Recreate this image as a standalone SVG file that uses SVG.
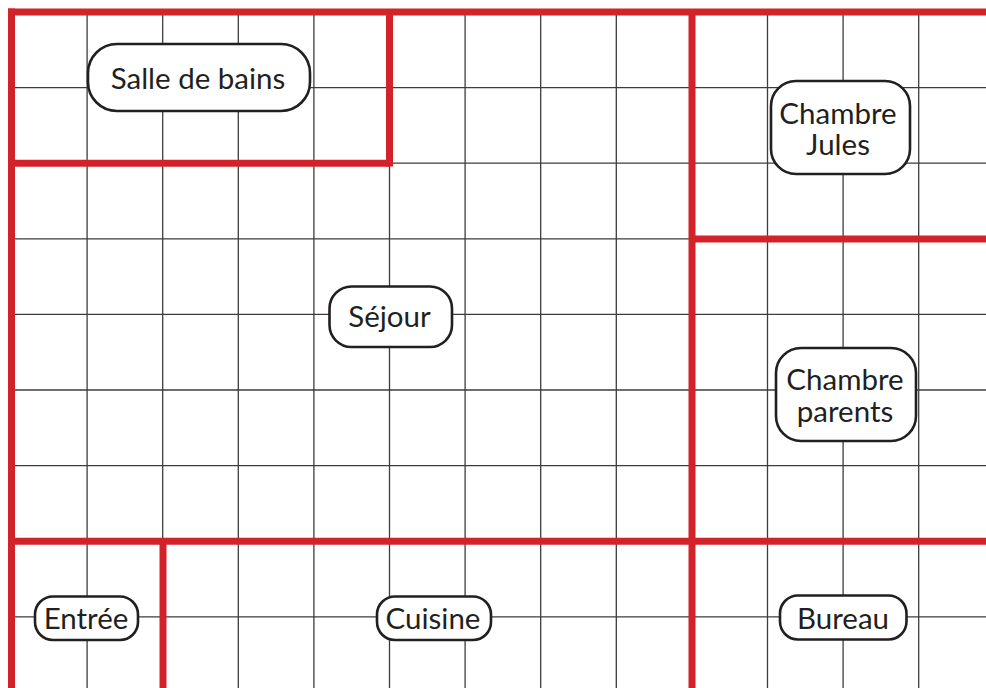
<svg xmlns="http://www.w3.org/2000/svg" width="986" height="688" viewBox="0 0 986 688">
<style>
.grid line{stroke:#3c3c3c;stroke-width:1.3}
.wall{stroke:#d2232a;stroke-width:7;fill:none}
.lbl rect{fill:#fff;stroke:#231f20;stroke-width:2.6}
.lbl text{font-family:Lato,"Open Sans","DejaVu Sans",sans-serif;font-size:29.5px;fill:#231f20;text-anchor:middle}
</style>
<rect width="986" height="688" fill="#fff"/>
<g id="grid" class="grid">
<line x1="87.1" y1="12" x2="87.1" y2="688"/>
<line x1="162.7" y1="12" x2="162.7" y2="688"/>
<line x1="238.3" y1="12" x2="238.3" y2="688"/>
<line x1="313.9" y1="12" x2="313.9" y2="688"/>
<line x1="389.5" y1="12" x2="389.5" y2="688"/>
<line x1="465.1" y1="12" x2="465.1" y2="688"/>
<line x1="540.7" y1="12" x2="540.7" y2="688"/>
<line x1="616.3" y1="12" x2="616.3" y2="688"/>
<line x1="767.5" y1="12" x2="767.5" y2="688"/>
<line x1="843.1" y1="12" x2="843.1" y2="688"/>
<line x1="918.7" y1="12" x2="918.7" y2="688"/>
<line x1="11.5" y1="87.6" x2="986" y2="87.6"/>
<line x1="11.5" y1="163.2" x2="986" y2="163.2"/>
<line x1="11.5" y1="238.8" x2="986" y2="238.8"/>
<line x1="11.5" y1="314.4" x2="986" y2="314.4"/>
<line x1="11.5" y1="390" x2="986" y2="390"/>
<line x1="11.5" y1="465.6" x2="986" y2="465.6"/>
<line x1="11.5" y1="616.8" x2="986" y2="616.8"/>
</g>
<g id="walls" class="wall">
<line x1="8" y1="12" x2="986" y2="12"/>
<line x1="11.5" y1="8.5" x2="11.5" y2="688"/>
<line x1="389.5" y1="12" x2="389.5" y2="166.5"/>
<line x1="11.5" y1="163.2" x2="389.5" y2="163.2"/>
<line x1="692" y1="12" x2="692" y2="688"/>
<line x1="692" y1="239" x2="986" y2="239"/>
<line x1="11.5" y1="541.2" x2="986" y2="541.2"/>
<line x1="163" y1="541.2" x2="163" y2="688"/>
</g>
<g id="salle-de-bains" class="lbl"><rect x="88" y="44" width="222" height="67" rx="29"/><text x="198" y="89">Salle de bains</text></g>
<g id="sejour" class="lbl"><rect x="329.5" y="286.5" width="122.5" height="60.5" rx="22"/><text x="389.5" y="327">Séjour</text></g>
<g id="chambre-jules" class="lbl"><rect x="771" y="81" width="139" height="93" rx="25"/><text x="838" y="123.5">Chambre</text><text x="838" y="155">Jules</text></g>
<g id="chambre-parents" class="lbl"><rect x="776" y="348" width="140" height="93" rx="25"/><text x="845" y="390">Chambre</text><text x="845" y="421.5">parents</text></g>
<g id="entree" class="lbl"><rect x="35" y="596.5" width="103" height="43.5" rx="18"/><text x="86" y="628.5">Entrée</text></g>
<g id="cuisine" class="lbl"><rect x="377" y="596.5" width="114" height="43.5" rx="18"/><text x="433" y="628.5">Cuisine</text></g>
<g id="bureau" class="lbl"><rect x="780" y="595.5" width="126.5" height="44" rx="18"/><text x="843" y="628.5">Bureau</text></g>
</svg>
